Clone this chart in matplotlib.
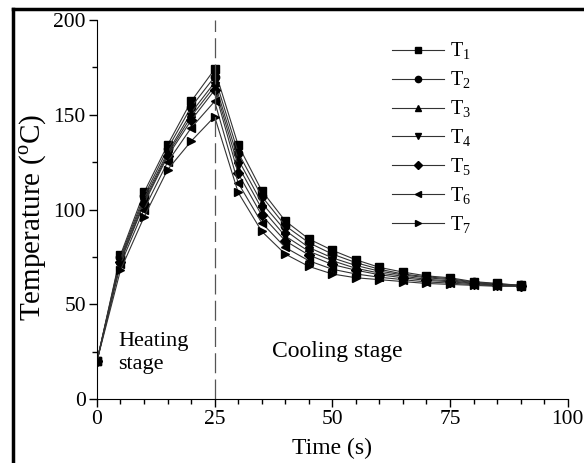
import matplotlib
matplotlib.use("Agg")
import matplotlib.pyplot as plt
from matplotlib.lines import Line2D
from matplotlib.ticker import MultipleLocator

plt.rcParams['font.family'] = 'Liberation Serif'
plt.rcParams['mathtext.fontset'] = 'custom'
plt.rcParams['mathtext.rm'] = 'Liberation Serif'

# Time points (s)
time = [0, 5, 10, 15, 20, 25, 30, 35, 40, 45, 50, 55, 60, 65, 70, 75, 80, 85, 90]

# Temperatures (degC)
T1 = [20, 76, 109, 134, 157, 174, 134, 110, 94, 84.5, 78.5, 73.5, 69.5, 67, 65, 64, 62, 61, 60]
T2 = [20, 75, 107, 132, 154, 170, 130, 107, 91.5, 82.5, 76.5, 72, 68.5, 66, 64.5, 63.5, 61.7, 60.8, 60]
T3 = [20, 74, 105.5, 130, 151, 167, 126.5, 103.5, 89, 80, 74.5, 70.5, 67.5, 65.5, 64, 63, 61.4, 60.5, 59.9]
T4 = [20, 73, 104, 129, 149, 165, 123, 100.5, 86, 78, 73, 69, 66.5, 64.8, 63.2, 62.4, 61.1, 60.3, 59.8]
T5 = [20, 72.5, 103, 128, 147, 163, 119, 97, 83.5, 76, 71, 68, 65.6, 64, 62.6, 61.9, 60.8, 60.1, 59.7]
T6 = [20, 71, 100, 125, 143, 157, 114, 93, 80, 73, 68.5, 66, 64.3, 63, 61.8, 61.2, 60.4, 59.8, 59.6]
T7 = [20, 68, 96, 121, 136, 149, 109, 88.5, 76.5, 70, 66, 64, 63, 62, 61, 60.5, 60, 59.5, 59.5]

series = [T1, T2, T3, T4, T5, T6, T7]
labels = [r'T$_1$', r'T$_2$', r'T$_3$', r'T$_4$', r'T$_5$', r'T$_6$', r'T$_7$']
markers = ['s', 'o', '^', 'v', 'D', '<', '>']

fig = plt.figure(figsize=(5.84, 4.63), dpi=100)
ax = fig.add_axes([0.166, 0.138, 0.806, 0.819])

for vals, lab, m in zip(series, labels, markers):
    ax.plot(time, vals, color='#333333', linewidth=0.8, marker=m,
            markersize=6 if m != 'D' else 5, markerfacecolor='black',
            markeredgecolor='black', label=lab)

# heating / cooling boundary
ax.axvline(25, color='#555555', linewidth=0.9, linestyle=(0, (16, 5)))

ax.text(4.5, 24.5, 'Heating\nstage', fontsize=16, va='center', ha='left', linespacing=1.3)
ax.text(37.2, 25, 'Cooling stage', fontsize=17, va='center', ha='left')

ax.set_xlim(0, 100)
ax.set_ylim(0, 200)
ax.xaxis.set_major_locator(MultipleLocator(25))
ax.xaxis.set_minor_locator(MultipleLocator(5))
ax.yaxis.set_major_locator(MultipleLocator(50))
ax.yaxis.set_minor_locator(MultipleLocator(25))
ax.tick_params(which='major', direction='out', length=6, width=1, labelsize=15.5, pad=2)
ax.tick_params(which='minor', direction='out', length=3.5, width=1)
ax.spines['top'].set_visible(False)
ax.spines['right'].set_visible(False)

ax.set_xlabel('Time (s)', fontsize=17, labelpad=6)
ax.set_ylabel(r'Temperature ($^{\mathrm{o}}$C)', fontsize=21)
ax.yaxis.set_label_coords(-0.102, 0.48)

leg = ax.legend(loc='upper left', bbox_to_anchor=(0.588, 0.993), frameon=False,
                fontsize=14.5, handlelength=2.6, labelspacing=0.38, handletextpad=0.3,
                markerscale=0.75)

# outer frame (left and top edges visible)
fig.add_artist(Line2D([13 / 584, 13 / 584], [0, 1 - 9 / 463], transform=fig.transFigure,
                      color='black', linewidth=2.5))
fig.add_artist(Line2D([13 / 584, 1], [1 - 9 / 463, 1 - 9 / 463], transform=fig.transFigure,
                      color='black', linewidth=2.5))

fig.savefig('out.png', dpi=100)
